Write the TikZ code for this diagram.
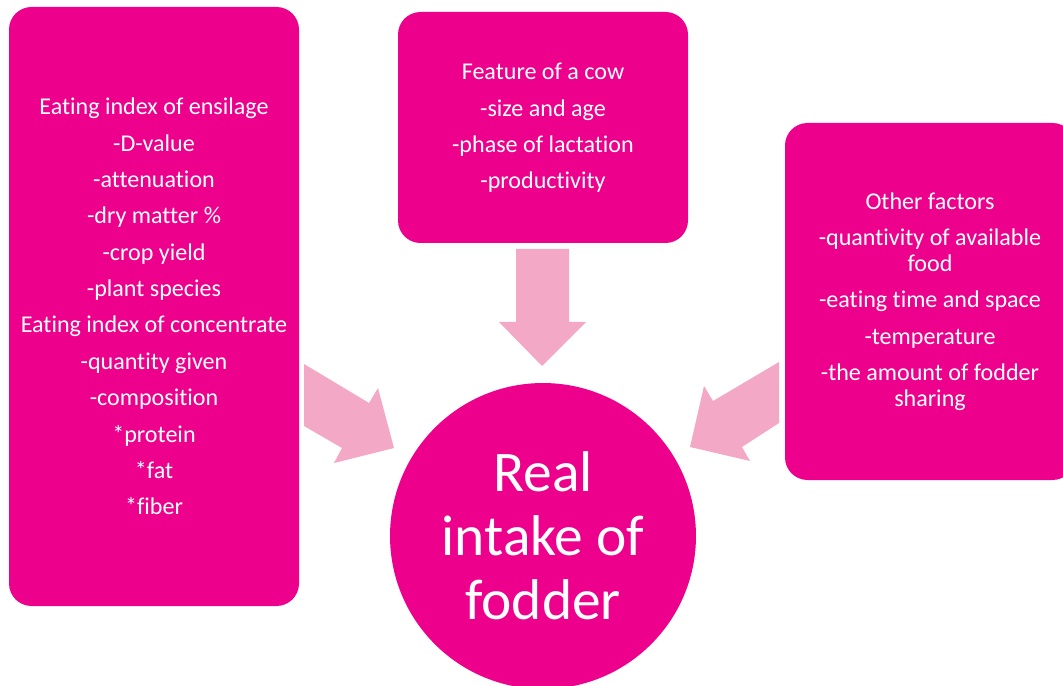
\documentclass[tikz,border=0pt]{standalone}
\usepackage{fontspec}
\setmainfont{Carlito}[Ligatures=NoCommon]
\usetikzlibrary{positioning}
\definecolor{boxpink}{HTML}{EC008C}
\definecolor{arrowpink}{HTML}{F3A9C5}

\begin{document}
\begin{tikzpicture}[x=0.02cm,y=-0.02cm]
\useasboundingbox (0,0) rectangle (1063,686);
% block arrows pointing at the circle
\fill[arrowpink] (516,249) -- (569,249) -- (569,322) -- (586,322) -- (542,366) -- (499,322) -- (516,322) -- cycle;
\fill[arrowpink] (304,364) -- (369,403) -- (378,388) -- (394,448) -- (334,463) -- (342,448) -- (304,426) -- cycle;
\fill[arrowpink] (779,362) -- (713,401) -- (704,386) -- (690,447) -- (750,461) -- (742,447) -- (779,423) -- cycle;
% three boxes
\draw[rounded corners=0.45cm, fill=boxpink, draw=none] (9,7) rectangle (299,606);
\node[text=white, align=center, font=\fontsize{13.7}{14.7}\selectfont] (ensilage) at (154,306.5) {Eating index of ensilage\\[6pt] -D-value\\[6pt] -attenuation\\[6pt] -dry matter \%\\[6pt] -crop yield\\[6pt] -plant species\\[6pt] Eating index of concentrate\\[6pt] -quantity given\\[6pt] -composition\\[6pt] *protein\\[6pt] *fat\\[6pt] *fiber};
\draw[rounded corners=0.45cm, fill=boxpink, draw=none] (398,12) rectangle (688,243);
\node[text=white, align=center, font=\fontsize{13.7}{14.7}\selectfont] (cow) at (543,128) {Feature of a cow\\[6pt] -size and age\\[6pt] -phase of lactation\\[6pt] -productivity};
\draw[rounded corners=0.45cm, fill=boxpink, draw=none] (785,123) rectangle (1075,480);
\node[text=white, align=center, font=\fontsize{13.7}{14.7}\selectfont] (other) at (930,301.5) {Other factors\\[6pt] -quantivity of available\\ food\\[6pt] -eating time and space\\[6pt] -temperature\\[6pt] -the amount of fodder\\ sharing};
% the circle in the middle
\node[circle, fill=boxpink, minimum size=6.12cm, inner sep=0pt, text=white, align=center, font=\fontsize{32.7}{36.3}\selectfont] (intake) at (543,536) {Real\\ intake of\\ fodder};
\end{tikzpicture}
\end{document}
